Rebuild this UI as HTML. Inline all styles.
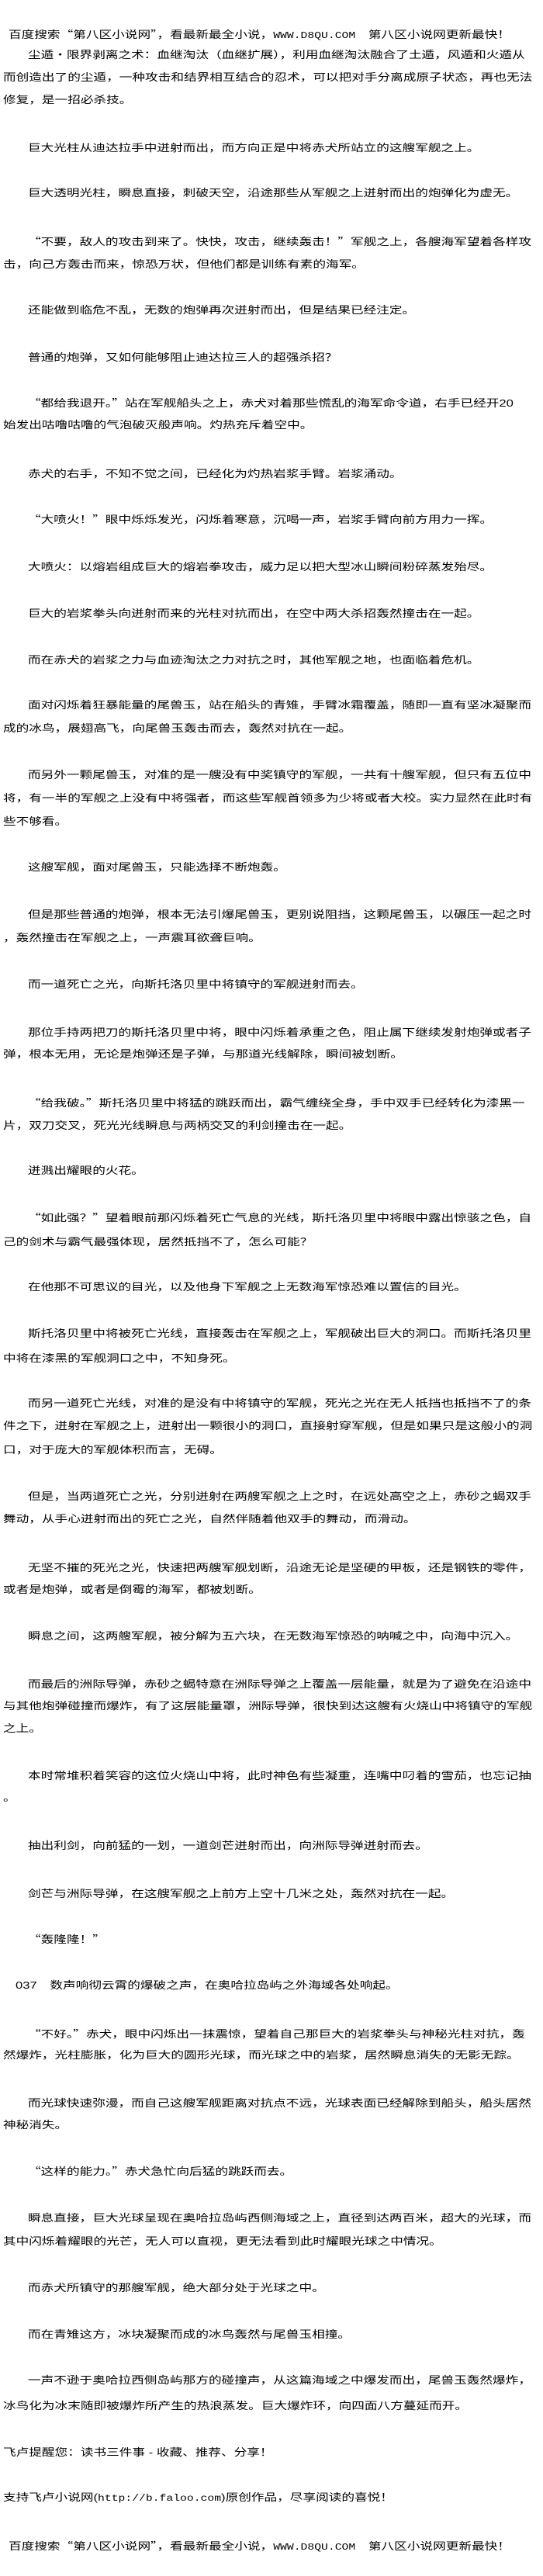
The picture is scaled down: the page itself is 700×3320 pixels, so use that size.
<!DOCTYPE html>
<html><head><meta charset="utf-8">
<style>
html,body{margin:0;padding:0;background:#fff;}
body{width:700px;height:3320px;position:relative;overflow:hidden;}
.l{position:absolute;height:29px;line-height:29px;margin-top:-14.5px;font-size:13px;color:#000;
font-family:"Liberation Sans","Noto Sans CJK SC","WenQuanYi Zen Hei",sans-serif;
transform:scaleX(1.28);transform-origin:0 50%;white-space:nowrap;}
.q{font-family:"Noto Sans CJK SC","WenQuanYi Zen Hei",sans-serif;}
.m{font-family:"Liberation Mono",monospace;font-size:11.5px;}
</style></head><body>
<div class="l" style="top:43px;left:11px">百度搜索<span class="q">“</span>第八区小说网<span class="q">”</span>，看最新最全小说，<span class="m">WWW.D8QU.COM</span>　第八区小说网更新最快！</div>
<div class="l" style="top:70px;left:36px">尘遁・限界剥离之术：血继淘汰（血继扩展），利用血继淘汰融合了土遁，风遁和火遁从</div>
<div class="l" style="top:99px;left:4px">而创造出了的尘遁，一种攻击和结界相互结合的忍术，可以把对手分离成原子状态，再也无法</div>
<div class="l" style="top:128px;left:4px">修复，是一招必杀技。</div>
<div class="l" style="top:190px;left:36px">巨大光柱从迪达拉手中迸射而出，而方向正是中将赤犬所站立的这艘军舰之上。</div>
<div class="l" style="top:248px;left:36px">巨大透明光柱，瞬息直接，刺破天空，沿途那些从军舰之上迸射而出的炮弹化为虚无。</div>
<div class="l" style="top:310px;left:36px"><span class="q">“</span>不要，敌人的攻击到来了。快快，攻击，继续轰击！<span class="q">”</span>军舰之上，各艘海军望着各样攻</div>
<div class="l" style="top:340px;left:4px">击，向己方轰击而来，惊恐万状，但他们都是训练有素的海军。</div>
<div class="l" style="top:399px;left:36px">还能做到临危不乱，无数的炮弹再次迸射而出，但是结果已经注定。</div>
<div class="l" style="top:460px;left:36px">普通的炮弹，又如何能够阻止迪达拉三人的超强杀招？</div>
<div class="l" style="top:518px;left:36px"><span class="q">“</span>都给我退开。<span class="q">”</span>站在军舰船头之上，赤犬对着那些慌乱的海军命令道，右手已经开20</div>
<div class="l" style="top:547px;left:4px">始发出咕噜咕噜的气泡破灭般声响。灼热充斥着空中。</div>
<div class="l" style="top:610px;left:36px">赤犬的右手，不知不觉之间，已经化为灼热岩浆手臂。岩浆涌动。</div>
<div class="l" style="top:668px;left:36px"><span class="q">“</span>大喷火！<span class="q">”</span>眼中烁烁发光，闪烁着寒意，沉喝一声，岩浆手臂向前方用力一挥。</div>
<div class="l" style="top:730px;left:36px">大喷火：以熔岩组成巨大的熔岩拳攻击，威力足以把大型冰山瞬间粉碎蒸发殆尽。</div>
<div class="l" style="top:790px;left:36px">巨大的岩浆拳头向迸射而来的光柱对抗而出，在空中两大杀招轰然撞击在一起。</div>
<div class="l" style="top:850px;left:36px">而在赤犬的岩浆之力与血迹淘汰之力对抗之时，其他军舰之地，也面临着危机。</div>
<div class="l" style="top:908px;left:36px">面对闪烁着狂暴能量的尾兽玉，站在船头的青雉，手臂冰霜覆盖，随即一直有坚冰凝聚而</div>
<div class="l" style="top:938px;left:4px">成的冰鸟，展翅高飞，向尾兽玉轰击而去，轰然对抗在一起。</div>
<div class="l" style="top:998px;left:36px">而另外一颗尾兽玉，对准的是一艘没有中奖镇守的军舰，一共有十艘军舰，但只有五位中</div>
<div class="l" style="top:1028px;left:4px">将，有一半的军舰之上没有中将强者，而这些军舰首领多为少将或者大校。实力显然在此时有</div>
<div class="l" style="top:1058px;left:4px">些不够看。</div>
<div class="l" style="top:1117px;left:36px">这艘军舰，面对尾兽玉，只能选择不断炮轰。</div>
<div class="l" style="top:1178px;left:36px">但是那些普通的炮弹，根本无法引爆尾兽玉，更别说阻挡，这颗尾兽玉，以碾压一起之时</div>
<div class="l" style="top:1208px;left:4px">，轰然撞击在军舰之上，一声震耳欲聋巨响。</div>
<div class="l" style="top:1268px;left:36px">而一道死亡之光，向斯托洛贝里中将镇守的军舰迸射而去。</div>
<div class="l" style="top:1330px;left:36px">那位手持两把刀的斯托洛贝里中将，眼中闪烁着承重之色，阻止属下继续发射炮弹或者子</div>
<div class="l" style="top:1358px;left:4px">弹，根本无用，无论是炮弹还是子弹，与那道光线解除，瞬间被划断。</div>
<div class="l" style="top:1420px;left:36px"><span class="q">“</span>给我破。<span class="q">”</span>斯托洛贝里中将猛的跳跃而出，霸气缠绕全身，手中双手已经转化为漆黑一</div>
<div class="l" style="top:1450px;left:4px">片，双刀交叉，死光光线瞬息与两柄交叉的利剑撞击在一起。</div>
<div class="l" style="top:1508px;left:36px">迸溅出耀眼的火花。</div>
<div class="l" style="top:1568px;left:36px"><span class="q">“</span>如此强？<span class="q">”</span>望着眼前那闪烁着死亡气息的光线，斯托洛贝里中将眼中露出惊骇之色，自</div>
<div class="l" style="top:1600px;left:4px">己的剑术与霸气最强体现，居然抵挡不了，怎么可能？</div>
<div class="l" style="top:1658px;left:36px">在他那不可思议的目光，以及他身下军舰之上无数海军惊恐难以置信的目光。</div>
<div class="l" style="top:1718px;left:36px">斯托洛贝里中将被死亡光线，直接轰击在军舰之上，军舰破出巨大的洞口。而斯托洛贝里</div>
<div class="l" style="top:1750px;left:4px">中将在漆黑的军舰洞口之中，不知身死。</div>
<div class="l" style="top:1808px;left:36px">而另一道死亡光线，对准的是没有中将镇守的军舰，死光之光在无人抵挡也抵挡不了的条</div>
<div class="l" style="top:1837px;left:4px">件之下，迸射在军舰之上，迸射出一颗很小的洞口，直接射穿军舰，但是如果只是这般小的洞</div>
<div class="l" style="top:1868px;left:4px">口，对于庞大的军舰体积而言，无碍。</div>
<div class="l" style="top:1928px;left:36px">但是，当两道死亡之光，分别迸射在两艘军舰之上之时，在远处高空之上，赤砂之蝎双手</div>
<div class="l" style="top:1957px;left:4px">舞动，从手心迸射而出的死亡之光，自然伴随着他双手的舞动，而滑动。</div>
<div class="l" style="top:2020px;left:36px">无坚不摧的死光之光，快速把两艘军舰划断，沿途无论是坚硬的甲板，还是钢铁的零件，</div>
<div class="l" style="top:2048px;left:4px">或者是炮弹，或者是倒霉的海军，都被划断。</div>
<div class="l" style="top:2108px;left:36px">瞬息之间，这两艘军舰，被分解为五六块，在无数海军惊恐的呐喊之中，向海中沉入。</div>
<div class="l" style="top:2170px;left:36px">而最后的洲际导弹，赤砂之蝎特意在洲际导弹之上覆盖一层能量，就是为了避免在沿途中</div>
<div class="l" style="top:2198px;left:4px">与其他炮弹碰撞而爆炸，有了这层能量罩，洲际导弹，很快到达这艘有火烧山中将镇守的军舰</div>
<div class="l" style="top:2227px;left:4px">之上。</div>
<div class="l" style="top:2288px;left:36px">本时常堆积着笑容的这位火烧山中将，此时神色有些凝重，连嘴中叼着的雪茄，也忘记抽</div>
<div class="l" style="top:2316px;left:4px">。</div>
<div class="l" style="top:2378px;left:36px">抽出利剑，向前猛的一划，一道剑芒迸射而出，向洲际导弹迸射而去。</div>
<div class="l" style="top:2440px;left:36px">剑芒与洲际导弹，在这艘军舰之上前方上空十几米之处，轰然对抗在一起。</div>
<div class="l" style="top:2498px;left:36px"><span class="q">“</span>轰隆隆！<span class="q">”</span></div>
<div class="l" style="top:2558px;left:20px">037　数声响彻云霄的爆破之声，在奥哈拉岛屿之外海域各处响起。</div>
<div class="l" style="top:2620px;left:36px"><span class="q">“</span>不好。<span class="q">”</span>赤犬，眼中闪烁出一抹震惊，望着自己那巨大的岩浆拳头与神秘光柱对抗，轰</div>
<div class="l" style="top:2648px;left:4px">然爆炸，光柱膨胀，化为巨大的圆形光球，而光球之中的岩浆，居然瞬息消失的无影无踪。</div>
<div class="l" style="top:2710px;left:36px">而光球快速弥漫，而自己这艘军舰距离对抗点不远，光球表面已经解除到船头，船头居然</div>
<div class="l" style="top:2738px;left:4px">神秘消失。</div>
<div class="l" style="top:2797px;left:36px"><span class="q">“</span>这样的能力。<span class="q">”</span>赤犬急忙向后猛的跳跃而去。</div>
<div class="l" style="top:2858px;left:36px">瞬息直接，巨大光球呈现在奥哈拉岛屿西侧海域之上，直径到达两百米，超大的光球，而</div>
<div class="l" style="top:2888px;left:4px">其中闪烁着耀眼的光芒，无人可以直视，更无法看到此时耀眼光球之中情况。</div>
<div class="l" style="top:2948px;left:36px">而赤犬所镇守的那艘军舰，绝大部分处于光球之中。</div>
<div class="l" style="top:3008px;left:36px">而在青雉这方，冰块凝聚而成的冰鸟轰然与尾兽玉相撞。</div>
<div class="l" style="top:3067px;left:36px">一声不逊于奥哈拉西侧岛屿那方的碰撞声，从这篇海域之中爆发而出，尾兽玉轰然爆炸，</div>
<div class="l" style="top:3100px;left:4px">冰鸟化为冰末随即被爆炸所产生的热浪蒸发。巨大爆炸环，向四面八方蔓延而开。</div>
<div class="l" style="top:3160px;left:4px">飞卢提醒您：读书三件事 - 收藏、推荐、分享！</div>
<div class="l" style="top:3218px;left:4px">支持飞卢小说网(<span class="m">http://b.faloo.com</span>)原创作品，尽享阅读的喜悦！</div>
<div class="l" style="top:3280px;left:11px">百度搜索<span class="q">“</span>第八区小说网<span class="q">”</span>，看最新最全小说，<span class="m">WWW.D8QU.COM</span>　第八区小说网更新最快！</div>
</body></html>
